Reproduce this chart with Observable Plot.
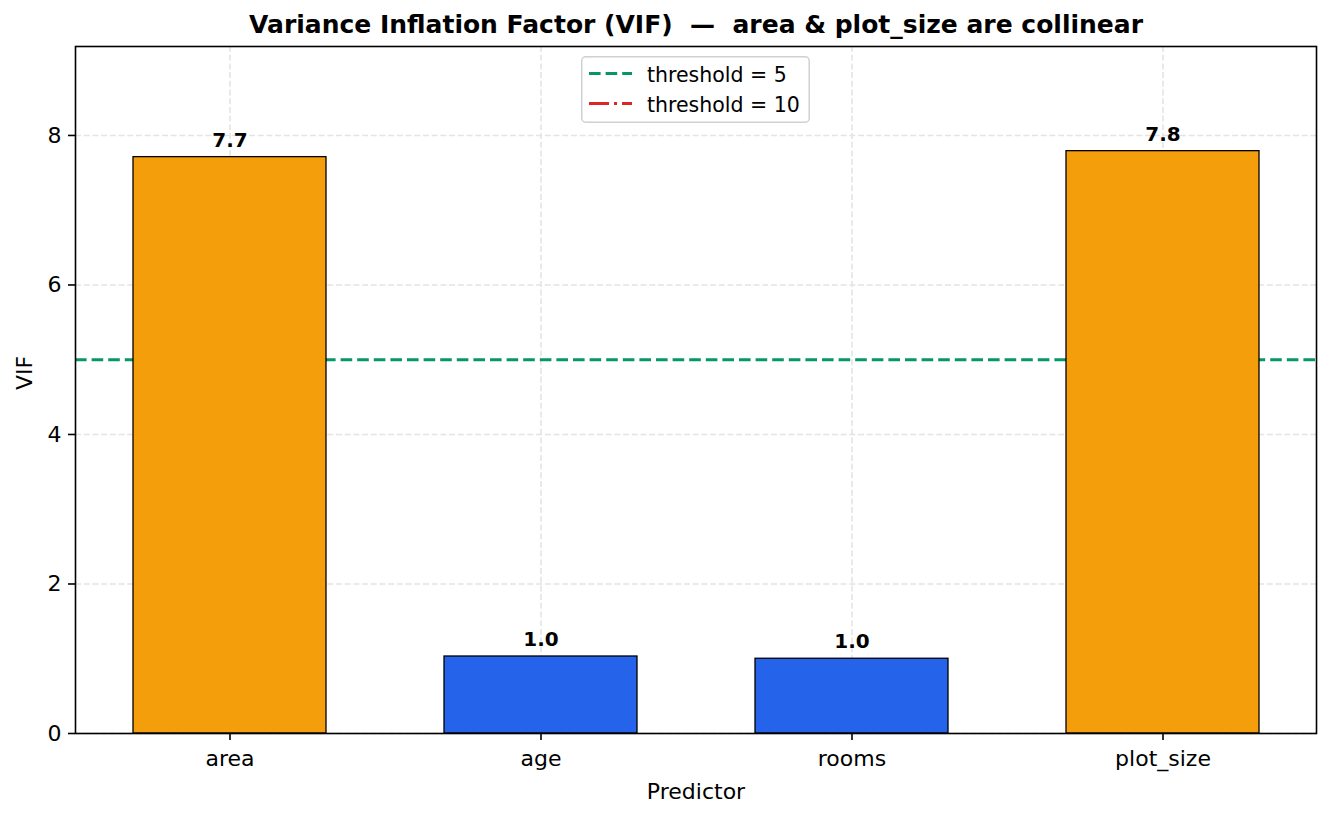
<!DOCTYPE html>
<html>
<head>
<meta charset="utf-8">
<script src="https://cdn.jsdelivr.net/npm/d3@7"></script>
<script src="https://cdn.jsdelivr.net/npm/@observablehq/plot@0.6"></script>
<style>
  html, body { margin: 0; padding: 0; background: #fff; }
  #wrap { position: relative; width: 1330px; height: 817px; font-family: "DejaVu Sans", sans-serif; }
  #legend { position: absolute; left: 581px; top: 56px; }
</style>
</head>
<body>
<div id="wrap"></div>
<script>
// Predictors and their variance inflation factors
const predictors = ["area", "age", "rooms", "plot_size"];
const vifValues = [7.71, 1.03, 1.00, 7.79];

// Reference thresholds
const thresholdValues = [5, 10];
const thresholdLabels = ["threshold = 5", "threshold = 10"];
const thresholdColors = ["#059669", "#dc2626"];
const thresholdDashes = ["11.6,5", "20,5,3,5"];

const yTicks = [0, 2, 4, 6, 8];
const titleText = "Variance Inflation Factor (VIF)  \u2014  area & plot_size are collinear";
const xLabel = "Predictor";
const yLabel = "VIF";

const highColor = "#f59e0b";
const lowColor = "#2563eb";
const cutoff = 5;

const rows = predictors.map((name, i) => ({name, vif: vifValues[i]}));
const thresholds = thresholdValues.map((value, i) => ({
  value, label: thresholdLabels[i], color: thresholdColors[i], dash: thresholdDashes[i]
}));

const font = "DejaVu Sans";

const chart = Plot.plot({
  width: 1330,
  height: 817,
  marginTop: 46,
  marginRight: 14,
  marginBottom: 84,
  marginLeft: 75,
  style: {fontFamily: font, fontSize: "22px", color: "black", background: "white"},
  x: {type: "band", domain: predictors, paddingInner: 0.38, paddingOuter: 0.181, label: null},
  y: {domain: [0, 9.19], label: null},
  marks: [
    Plot.gridY(yTicks, {stroke: "#e4e4e4", strokeOpacity: 1, strokeWidth: 1.6, strokeDasharray: "6,2.7"}),
    Plot.gridX(predictors, {stroke: "#e4e4e4", strokeOpacity: 1, strokeWidth: 1.6, strokeDasharray: "6,2.7"}),
    ...thresholds.map(t => Plot.ruleY([t.value], {
      stroke: t.color, strokeWidth: 3, strokeDasharray: t.dash, clip: true
    })),
    Plot.barY(rows, {
      x: "name", y: "vif",
      fill: d => d.vif > cutoff ? highColor : lowColor,
      stroke: "black", strokeWidth: 1.3
    }),
    Plot.text(rows, {
      x: "name", y: "vif", text: d => d.vif.toFixed(1),
      lineAnchor: "bottom", dy: -10.5, fontSize: 20, fontWeight: "bold", fill: "black"
    }),
    Plot.frame({stroke: "black", strokeWidth: 1.6}),
    Plot.axisX({tickSize: 7, tickPadding: 10, fontSize: 22, color: "black", strokeWidth: 1.6, label: null}),
    Plot.axisY(yTicks, {
      tickSize: 7, tickPadding: 7, fontSize: 22, color: "black", strokeWidth: 1.6,
      tickFormat: d => String(d), label: null
    }),
    Plot.text([titleText], {
      frameAnchor: "top", text: d => d, lineAnchor: "bottom", dy: -13.5,
      fontSize: 25, fontWeight: "bold", fill: "black"
    }),
    Plot.text([xLabel], {
      frameAnchor: "bottom", text: d => d, lineAnchor: "bottom", dy: 65.3,
      fontSize: 22, fill: "black"
    }),
    Plot.text([yLabel], {
      frameAnchor: "left", text: d => d, rotate: -90, lineAnchor: "bottom", dx: -43.3,
      fontSize: 22, fill: "black"
    })
  ]
});

const wrap = document.getElementById("wrap");
wrap.appendChild(chart);

// Legend box for the threshold lines
const lw = 229, lh = 67;
const legend = d3.create("svg")
  .attr("id", "legend")
  .attr("width", lw)
  .attr("height", lh);
legend.append("rect")
  .attr("x", 0.75).attr("y", 0.75)
  .attr("width", lw - 1.5).attr("height", lh - 1.5)
  .attr("rx", 4)
  .attr("fill", "rgba(255,255,255,0.8)")
  .attr("stroke", "#d0d0d0")
  .attr("stroke-width", 1.5);
const entry = legend.selectAll("g.entry")
  .data(thresholds)
  .join("g")
  .attr("class", "entry")
  .attr("transform", (d, i) => `translate(0,${17.5 + i * 30})`);
entry.append("line")
  .attr("x1", 8).attr("x2", 51)
  .attr("stroke", d => d.color)
  .attr("stroke-width", 3)
  .attr("stroke-dasharray", d => d.dash);
entry.append("text")
  .attr("x", 66).attr("y", 8.2)
  .attr("font-family", font)
  .attr("font-size", 20.5)
  .attr("fill", "black")
  .text(d => d.label);
wrap.appendChild(legend.node());
</script>
</body>
</html>
